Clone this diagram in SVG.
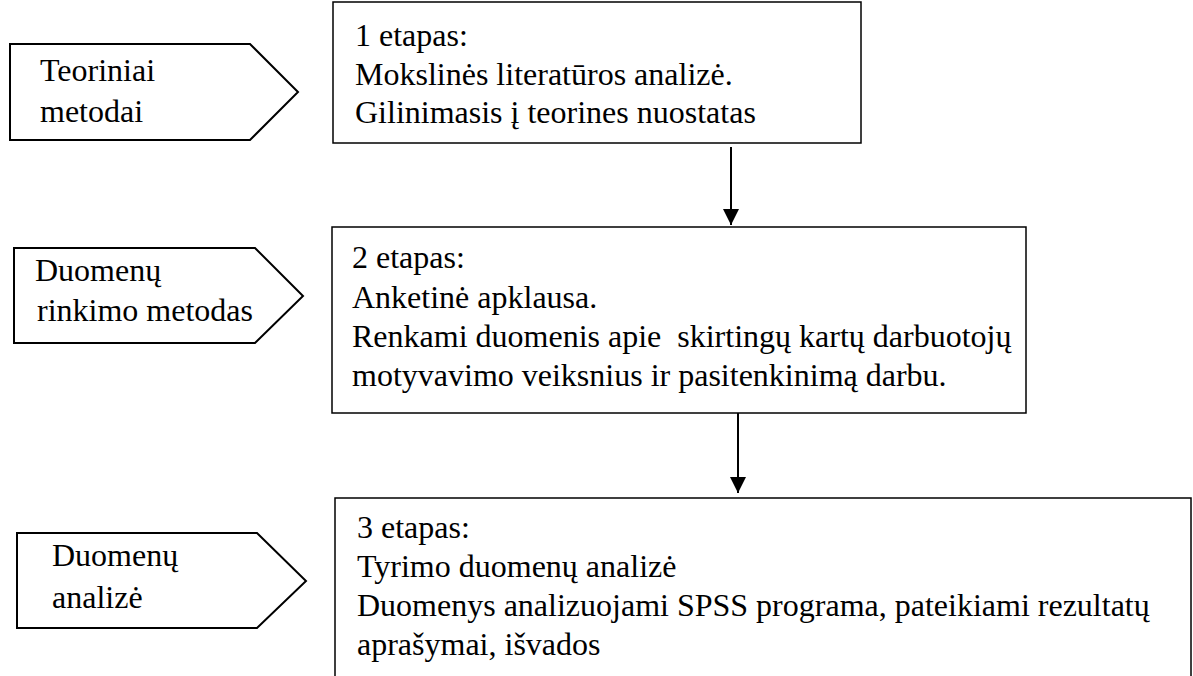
<svg xmlns="http://www.w3.org/2000/svg" width="1193" height="676" viewBox="0 0 1193 676">
<style>
.box{fill:#fff;stroke:#000;stroke-width:1.5}
.pent{fill:#fff;stroke:#000;stroke-width:2}
.t{font-family:"Liberation Serif","Times New Roman",serif;font-size:32px;fill:#000}
.con{stroke:#000;stroke-width:2;fill:none}
</style>
<defs>
<marker id="ah" viewBox="0 0 16 16" refX="16" refY="8" markerWidth="16" markerHeight="16" markerUnits="userSpaceOnUse" orient="auto">
<path d="M0,0 L16,8 L0,16 Z" fill="#000"/>
</marker>
</defs>
<rect width="1193" height="676" fill="#fff"/>
<g id="method1">
<polygon class="pent" points="10,44 250,44 298,92 250,140 10,140"/>
<text class="t" x="40" y="81">Teoriniai</text>
<text class="t" x="40" y="122">metodai</text>
</g>
<g id="stage1">
<rect class="box" x="333" y="2" width="528" height="141"/>
<text class="t" x="355" y="46">1 etapas:</text>
<text class="t" x="355" y="85">Mokslinės literatūros analizė.</text>
<text class="t" x="355" y="123">Gilinimasis į teorines nuostatas</text>
</g>
<g id="method2">
<polygon class="pent" points="14,248 255,248 303,296 255,343 14,343"/>
<text class="t" x="35" y="281">Duomenų</text>
<text class="t" x="37" y="321">rinkimo metodas</text>
</g>
<g id="stage2">
<rect class="box" x="332" y="227" width="694" height="186"/>
<text class="t" x="352" y="268">2 etapas:</text>
<text class="t" x="352" y="308">Anketinė apklausa.</text>
<text class="t" x="352" y="347" xml:space="preserve">Renkami duomenis apie  skirtingų kartų darbuotojų</text>
<text class="t" x="352" y="386">motyvavimo veiksnius ir pasitenkinimą darbu.</text>
</g>
<g id="method3">
<polygon class="pent" points="17,533 257,533 306,581 257,628 17,628"/>
<text class="t" x="52" y="566">Duomenų</text>
<text class="t" x="52" y="608">analizė</text>
</g>
<g id="stage3">
<rect class="box" x="335" y="498" width="856" height="200"/>
<text class="t" x="357" y="538">3 etapas:</text>
<text class="t" x="357" y="577">Tyrimo duomenų analizė</text>
<text class="t" x="357" y="616">Duomenys analizuojami SPSS programa, pateikiami rezultatų</text>
<text class="t" x="357" y="655">aprašymai, išvados</text>
</g>
<g id="connectors">
<line class="con" x1="731" y1="147" x2="731" y2="225" marker-end="url(#ah)"/>
<line class="con" x1="738" y1="413" x2="738" y2="493" marker-end="url(#ah)"/>
</g>
</svg>
